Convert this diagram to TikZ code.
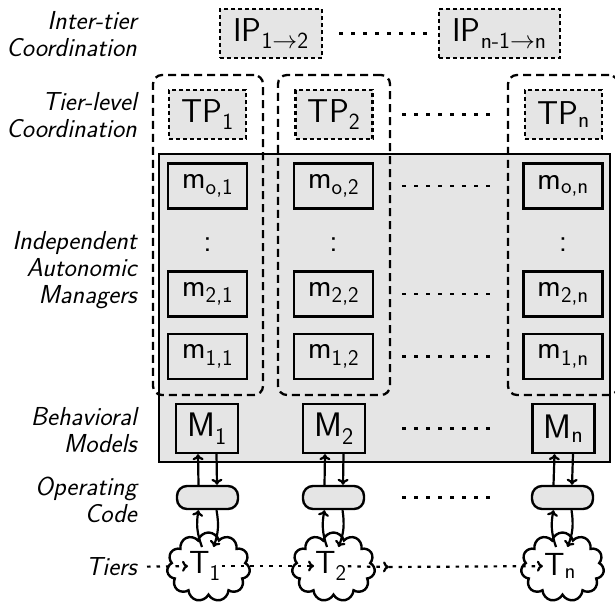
\documentclass[tikz,border=0pt]{standalone}
\usepackage{fontspec}
\setsansfont{Latin Modern Sans}
\usetikzlibrary{shapes.symbols,arrows.meta}
\begin{document}
\begin{tikzpicture}[x=1pt,y=-1pt,
  lbl/.style={anchor=east,align=right,inner sep=0pt,
    font=\fontsize{26}{27}\selectfont\sffamily\itshape},
  coordbox/.style={draw,fill=gray!20,line width=2.2pt,dash pattern=on 4pt off 3pt,
    inner sep=0pt,minimum height=49pt,font=\fontsize{33}{33}\selectfont\sffamily},
  mbox/.style={draw,line width=2.4pt,inner sep=0pt,minimum width=79pt,minimum height=45pt,
    font=\fontsize{32}{32}\selectfont\sffamily},
  Mbox/.style={draw,line width=2.4pt,inner sep=0pt,minimum width=62pt,minimum height=49pt,
    font=\fontsize{34}{34}\selectfont\sffamily},
  vdots/.style={inner sep=0pt,font=\fontsize{32}{32}\selectfont\sffamily},
  opbox/.style={draw,fill=gray!20,line width=2.4pt,rounded corners=10pt,
    minimum width=61pt,minimum height=23pt,inner sep=0pt},
  tiercloud/.style={cloud,draw,fill=white,line width=2.4pt,cloud puffs=11,
    minimum width=83pt,minimum height=69pt,inner sep=0pt},
  tlabel/.style={inner sep=1pt,font=\fontsize{32}{32}\selectfont\sffamily},
  tierbox/.style={draw,line width=2.3pt,dash pattern=on 8pt off 5pt,rounded corners=9pt,
    inner sep=0pt,minimum height=320pt},
  panel/.style={draw,fill=gray!20,line width=2.2pt,inner sep=0pt},
  dotline/.style={line width=2.2pt,dash pattern=on 3.5pt off 8.5pt},
  flow/.style={line width=2.2pt,-{To[length=6pt,width=11pt]}},
  dotflow/.style={line width=2.2pt,dash pattern=on 3.5pt off 6pt,-{To[length=6pt,width=11pt]}},
]
\useasboundingbox (0,0) rectangle (615,605);

% row captions
\node[lbl] (l-ip) at (137,34) {Inter-tier\\Coordination};
\node[lbl] (l-tp) at (137,115) {Tier-level\\Coordination};
\node[lbl] (l-am) at (137,270) {Independent\\Autonomic\\Managers};
\node[lbl] (l-bm) at (137,430) {Behavioral\\Models};
\node[lbl] (l-oc) at (137,500) {Operating\\Code};
\node[lbl] (l-t)  at (137,567) {Tiers};

% shaded panel holding managers and models
\node[panel,minimum width=451pt,minimum height=308pt] (panel) at (384.5,308) {};

% per-tier dashed groups
\node[tierbox,minimum width=110pt] (col1) at (208,235) {};
\node[tierbox,minimum width=112pt] (col2) at (334,235) {};
\node[tierbox,minimum width=110pt] (coln) at (563,235) {};

% inter-tier coordination
\node[coordbox,minimum width=102pt] (ip1) at (271,33.5) {IP\textsubscript{1$\rightarrow$2}};
\node[coordbox,minimum width=121pt] (ipn) at (499.5,33.5) {IP\textsubscript{n-1$\rightarrow$n}};

% tier-level coordination
\node[coordbox,minimum width=77pt] (tp1) at (207.5,114.5) {TP\textsubscript{1}};
\node[coordbox,minimum width=77pt] (tp2) at (334,114.5) {TP\textsubscript{2}};
\node[coordbox,minimum width=77pt] (tpn) at (563.5,114.5) {TP\textsubscript{n}};

% autonomic managers
\node[mbox] (mo1) at (207.5,186) {m\textsubscript{o,1}};
\node[mbox] (mo2) at (333.5,186) {m\textsubscript{o,2}};
\node[mbox] (mon) at (563,186) {m\textsubscript{o,n}};
\node[vdots] (d1) at (207.5,245) {:};
\node[vdots] (d2) at (333.5,245) {:};
\node[vdots] (dn) at (563,245) {:};
\node[mbox] (m21) at (207.5,294) {m\textsubscript{2,1}};
\node[mbox] (m22) at (333.5,294) {m\textsubscript{2,2}};
\node[mbox] (m2n) at (563,294) {m\textsubscript{2,n}};
\node[mbox] (m11) at (207.5,356.5) {m\textsubscript{1,1}};
\node[mbox] (m12) at (333.5,356.5) {m\textsubscript{1,2}};
\node[mbox] (m1n) at (563,356.5) {m\textsubscript{1,n}};

% behavioral models
\node[Mbox] (M1) at (207,428.5) {M\textsubscript{1}};
\node[Mbox] (M2) at (334,428.5) {M\textsubscript{2}};
\node[Mbox] (Mn) at (563.5,428.5) {M\textsubscript{n}};

% operating code
\node[opbox] (op1) at (207.5,497.5) {};
\node[opbox] (op2) at (333.5,497.5) {};
\node[opbox] (opn) at (562.5,497.5) {};

% tiers
\node[tiercloud] (c1) at (208.5,567) {};
\node[tiercloud] (c2) at (333.5,567) {};
\node[tiercloud] (cn) at (562.5,567) {};
\node[tlabel] (t1) at (205,566) {T\textsubscript{1}};
\node[tlabel] (t2) at (331,566) {T\textsubscript{2}};
\node[tlabel] (tn) at (560,566) {T\textsubscript{n}};
\coordinate (tmid) at (389,567);

% dotted continuations between tiers 2 and n
\draw[dotline,shorten <=16pt,shorten >=6pt] (ip1) -- (ipn);
\draw[dotline,shorten <=11pt,shorten >=11pt] (col2.east |- tp2) -- (coln.west |- tpn);
\draw[dotline,shorten <=11pt,shorten >=11pt] (col2.east |- mo2) -- (coln.west |- mon);
\draw[dotline,shorten <=11pt,shorten >=11pt] (col2.east |- m22) -- (coln.west |- m2n);
\draw[dotline,shorten <=11pt,shorten >=11pt] (col2.east |- m12) -- (coln.west |- m1n);
\draw[dotline,shorten <=11pt,shorten >=11pt] (col2.east |- M2) -- (coln.west |- Mn);
\draw[dotline,shorten <=11pt,shorten >=11pt] (col2.east |- op2) -- (coln.west |- opn);

% model <-> operating code
\foreach \m/\o in {M1/op1,M2/op2,Mn/opn}{
  \draw[flow] ([xshift=-9pt]\o.north) -- ([xshift=-9pt]\m.south);
  \draw[flow] ([xshift=9.5pt]\m.south) -- ([xshift=9.5pt]\o.north);
}

% operating code <-> tier
\foreach \o/\c in {op1/c1,op2/c2,opn/cn}{
  \draw[flow] ([xshift=-6.5pt,yshift=20pt]\c.center) to[bend left=15] ([xshift=-9pt]\o.south);
  \draw[flow] ([xshift=9pt]\o.south) to[bend left=15] ([xshift=5pt,yshift=20pt]\c.center);
}

% tier chain
\draw[dotflow,shorten <=10pt] (l-t) -- (t1);
\draw[dotflow] (t1) -- (t2);
\draw[dotflow] (t2) -- (tmid);
\draw[dotflow] (tmid) -- (tn);
\end{tikzpicture}
\end{document}
